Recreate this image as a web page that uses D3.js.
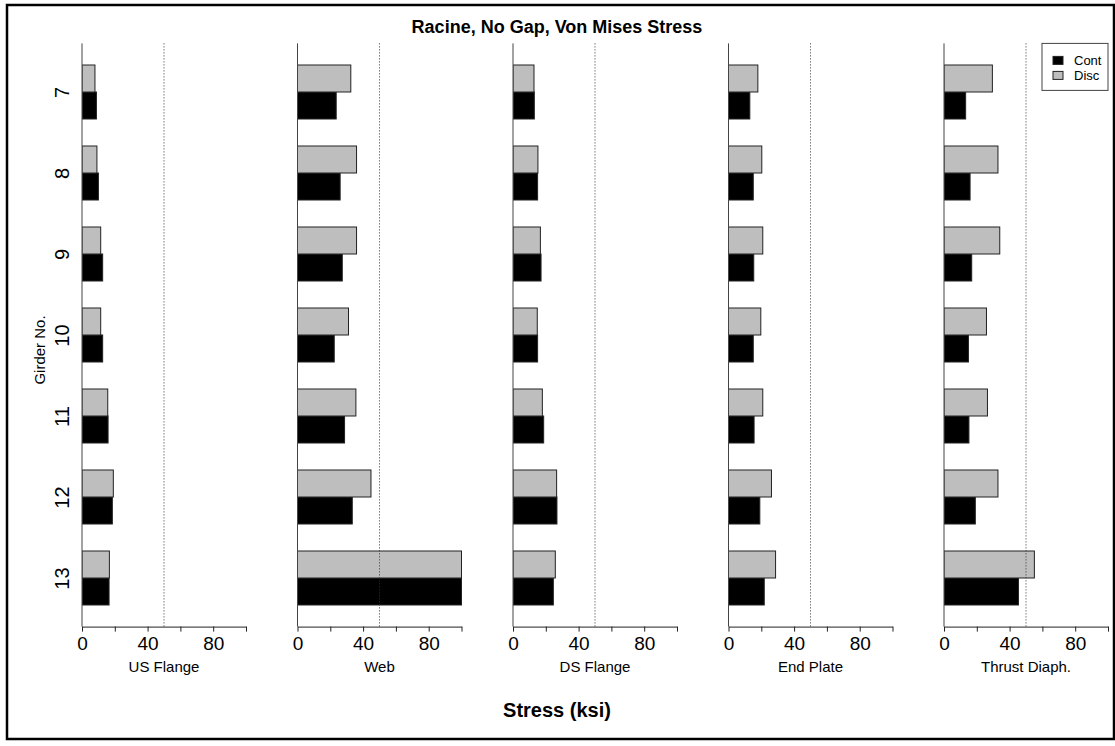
<!DOCTYPE html>
<html>
<head>
<meta charset="utf-8">
<script src="https://cdn.jsdelivr.net/npm/d3@7/dist/d3.min.js"></script>
<style>
  html, body { margin: 0; padding: 0; background: #fff; }
  svg { display: block; font-family: Arial, "Liberation Sans", sans-serif; }
</style>
</head>
<body>
<svg id="chart" width="1115" height="746"></svg>
<script>
// ---- Data ----
const girders = ["7", "8", "9", "10", "11", "12", "13"];
const components = ["US Flange", "Web", "DS Flange", "End Plate", "Thrust Diaph."];
const seriesNames = ["Cont", "Disc"];

const usFlangeCont = [8.8, 10.0, 12.6, 12.6, 15.9, 18.5, 16.5];
const usFlangeDisc = [7.9, 9.1, 11.4, 11.4, 15.7, 19.1, 16.7];
const webCont = [23.6, 26.0, 27.3, 22.4, 28.7, 33.4, 100];
const webDisc = [32.5, 36.0, 36.0, 31.1, 35.6, 44.8, 100];
const dsFlangeCont = [13.0, 15.0, 17.1, 15.0, 18.7, 26.8, 24.6];
const dsFlangeDisc = [12.8, 15.2, 16.7, 14.8, 17.9, 26.6, 25.8];
const endPlateCont = [13.0, 15.1, 15.4, 15.1, 15.6, 19.1, 21.8];
const endPlateDisc = [17.9, 20.3, 20.9, 19.7, 20.9, 26.2, 28.7];
const thrustCont = [13.2, 15.9, 16.9, 14.9, 15.2, 19.1, 45.4];
const thrustDisc = [29.5, 32.9, 34.0, 25.9, 26.5, 32.9, 55.1];

const xTicks = [0, 20, 40, 60, 80, 100];
const xTickLabels = [0, 40, 80];
const stressLimit = 50;

const contByPanel = [usFlangeCont, webCont, dsFlangeCont, endPlateCont, thrustCont];
const discByPanel = [usFlangeDisc, webDisc, dsFlangeDisc, endPlateDisc, thrustDisc];

// ---- Layout ----
const svg = d3.select("#chart");
const panelLeft0 = 82, panelStep = 215.5, panelWidth = 164;
const yTop = 43.4, yBottom = 626.6;
const colors = { Cont: "#000000", Disc: "#bebebe" };
const FONT = "Arial, 'Liberation Sans', sans-serif";

// Outer frame
svg.append("rect").attr("x", 7).attr("y", 5).attr("width", 1107).attr("height", 734)
  .attr("fill", "none").attr("stroke", "#000").attr("stroke-width", 2.5);

// y scale in bar units (R barplot style: groups of 2, one unit space before each group)
const nG = girders.length;
const y = d3.scaleLinear().domain([0.2, 3 * nG + 0.8]).range([yBottom, yTop]);
function kOf(i) { return nG - 1 - i; } // girder 13 is the bottom group

const defs = svg.append("defs");

components.forEach((comp, p) => {
  const x0 = panelLeft0 + p * panelStep;
  const x = d3.scaleLinear().domain([0, 100]).range([x0, x0 + panelWidth]);
  const g = svg.append("g");

  defs.append("clipPath").attr("id", "clip" + p)
    .append("rect").attr("x", x0).attr("y", yTop).attr("width", panelWidth + 0.5).attr("height", yBottom - yTop);

  const bars = g.append("g").attr("clip-path", `url(#clip${p})`);
  const rows = [];
  girders.forEach((gd, i) => {
    const k = kOf(i);
    rows.push({ series: "Cont", v: contByPanel[p][i], u0: 1 + 3 * k, u1: 2 + 3 * k });
    rows.push({ series: "Disc", v: discByPanel[p][i], u0: 2 + 3 * k, u1: 3 + 3 * k });
  });
  bars.selectAll("rect").data(rows).join("rect")
    .attr("x", x(0))
    .attr("y", d => y(d.u1))
    .attr("width", d => x(d.v) - x(0))
    .attr("height", d => y(d.u0) - y(d.u1))
    .attr("fill", d => colors[d.series])
    .attr("stroke", "#222")
    .attr("stroke-width", 1);

  // limit line
  g.append("line")
    .attr("x1", x(stressLimit)).attr("x2", x(stressLimit))
    .attr("y1", yTop).attr("y2", yBottom)
    .attr("stroke", "#333").attr("stroke-width", 1).attr("stroke-dasharray", "1,2");

  // left axis line
  g.append("line").attr("x1", x0).attr("x2", x0).attr("y1", yTop).attr("y2", yBottom)
    .attr("stroke", "#444").attr("stroke-width", 1);

  // bottom axis
  const ax = d3.axisBottom(x).tickValues(xTicks)
    .tickFormat(d => xTickLabels.includes(d) ? String(d) : "")
    .tickSize(5).tickSizeOuter(0).tickPadding(5);
  const axg = g.append("g").attr("transform", `translate(0,${yBottom})`).call(ax);
  axg.select(".domain").attr("stroke", "#222");
  axg.selectAll(".tick line").attr("stroke", "#222");
  axg.selectAll("text").attr("font-size", 19).attr("font-family", FONT).attr("fill", "#000");

  // panel label
  g.append("text").attr("x", x0 + panelWidth / 2).attr("y", 672)
    .attr("text-anchor", "middle").attr("font-size", 15).text(comp);

  if (p === 0) {
    const centers = girders.map((gd, i) => 2 + 3 * kOf(i));
    const ay = d3.axisLeft(y).tickValues(centers)
      .tickFormat(d => girders[nG - 1 - (d - 2) / 3]).tickSize(0);
    const ayg = g.append("g").attr("transform", `translate(${x0},0)`).call(ay);
    ayg.select(".domain").remove();
    ayg.selectAll("text")
      .attr("x", 0).attr("dy", 0)
      .attr("text-anchor", "middle")
      .attr("transform", "translate(-13,0) rotate(-90)")
      .attr("font-size", 20).attr("font-family", FONT).attr("fill", "#000");
  }

  if (p === components.length - 1) {
    // legend at top right of last panel
    const lx = x(100) - 66, ly = yTop;
    const lg = g.append("g");
    lg.append("rect").attr("x", lx).attr("y", ly).attr("width", 66).attr("height", 47)
      .attr("fill", "#fff").attr("stroke", "#444").attr("stroke-width", 1);
    seriesNames.forEach((s, j) => {
      const cy = ly + 17 + j * 15;
      lg.append("rect").attr("x", lx + 11).attr("y", cy - 4).attr("width", 10).attr("height", 8)
        .attr("fill", colors[s]).attr("stroke", "#222").attr("stroke-width", 1);
      lg.append("text").attr("x", lx + 32).attr("y", cy + 5).attr("font-size", 13).text(s);
    });
  }
});

// y axis title
svg.append("text").attr("transform", "translate(45,350) rotate(-90)")
  .attr("text-anchor", "middle").attr("font-size", 15).text("Girder No.");

// main title
svg.append("text").attr("x", 557).attr("y", 33).attr("text-anchor", "middle")
  .attr("font-size", 18).attr("font-weight", "bold").text("Racine, No Gap, Von Mises Stress");

// x axis title
svg.append("text").attr("x", 557).attr("y", 717).attr("text-anchor", "middle")
  .attr("font-size", 20).attr("font-weight", "bold").text("Stress (ksi)");
</script>
</body>
</html>
